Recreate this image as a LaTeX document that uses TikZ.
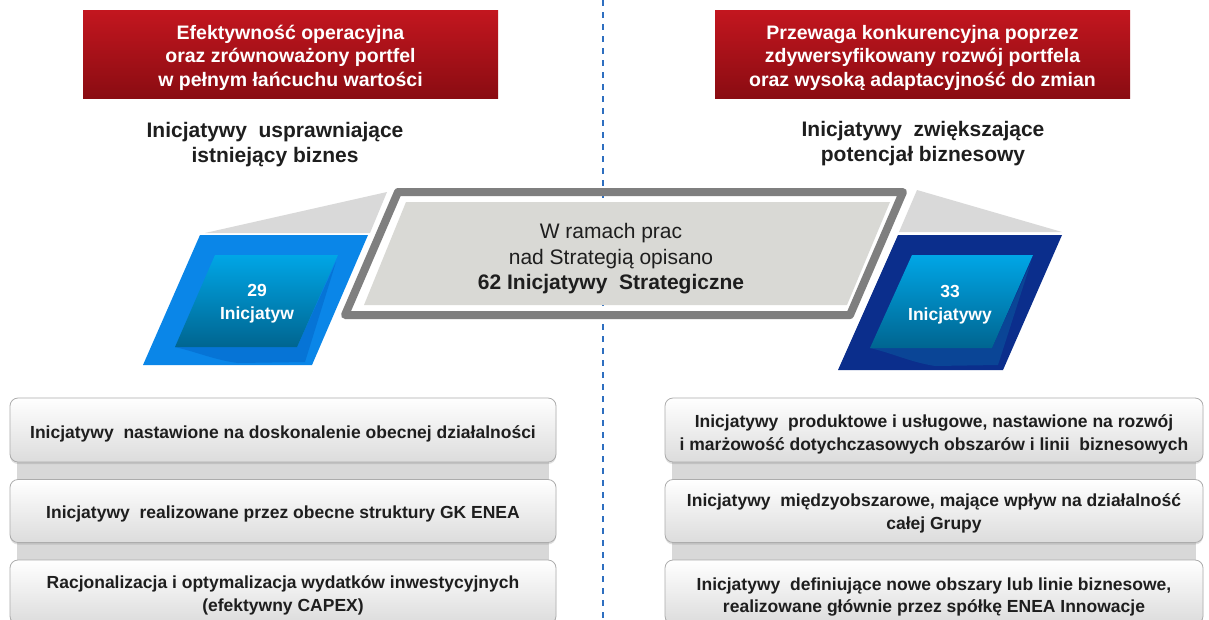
\documentclass[tikz,border=0pt]{standalone}
\usepackage{fontspec}
\setmainfont{Liberation Sans}
\usetikzlibrary{shadows}
\definecolor{redtop}{HTML}{C3161F}
\definecolor{redbot}{HTML}{8A0C12}
\definecolor{dashblue}{HTML}{2E6FC0}
\definecolor{wedge}{HTML}{D9D9D9}
\definecolor{frame}{HTML}{7F7F7F}
\definecolor{cfill}{HTML}{D9D9D5}
\definecolor{blueL}{HTML}{0A86E8}
\definecolor{blueLfold}{HTML}{0674D6}
\definecolor{navy}{HTML}{0B2E8C}
\definecolor{navyfold}{HTML}{0A4596}
\definecolor{intop}{HTML}{00A6E6}
\definecolor{inbot}{HTML}{006590}
\definecolor{band}{HTML}{D8D8D8}
\definecolor{boxbot}{HTML}{DCDCDC}
\definecolor{txt}{HTML}{1E1E1E}
\begin{document}
\begin{tikzpicture}[x=1pt,y=-1pt,
  redbox/.style={top color=redtop, bottom color=redbot, draw=none,
    inner sep=0pt},
  redtext/.style={text=white, align=center, inner sep=0pt,
    font=\bfseries\fontsize{19.5}{23.5}\selectfont},
  subtitle/.style={text=txt, align=center,
    font=\bfseries\fontsize{21}{25}\selectfont},
  lowbox/.style={draw=gray!65, line width=0.8pt, rounded corners=8pt,
    top color=white, middle color=white, bottom color=boxbot,
    drop shadow={shadow xshift=0pt, shadow yshift=-2pt, opacity=0.25},
    inner sep=0pt},
  lowtext/.style={text=txt, align=center, inner sep=0pt,
    font=\bfseries\fontsize{17.5}{22.5}\selectfont},
  count/.style={text=white, align=center,
    font=\bfseries\fontsize{17.5}{23}\selectfont},
  center/.style={text=txt, align=center,
    font=\fontsize{21}{25.5}\selectfont},
  dashline/.style={draw=dashblue, line width=2pt, dash pattern=on 6pt off 6pt}
]
\useasboundingbox (0,0) rectangle (1209,619);
\fill[white] (0,0) rectangle (1209,619);

% dashed separator
\coordinate (dtop) at (603,0);
\coordinate (dbot) at (603,619);
\draw[dashline] (dtop) -- (dbot);

% header boxes
\node[redbox, minimum width=415pt, minimum height=88pt] (hl) at (290.5,54) {};
\node[redtext] (hlt) at (290.5,57.5)
  {Efektywność operacyjna\\oraz zrównoważony portfel\\w pełnym łańcuchu wartości};
\node[redbox, minimum width=415pt, minimum height=88pt] (hr) at (922.5,54) {};
\node[redtext] (hrt) at (922.5,57.5)
  {Przewaga konkurencyjna poprzez\\zdywersyfikowany rozwój portfela\\oraz wysoką adaptacyjność do zmian};

% subtitles
\node[subtitle] (sl) at (275,145) {Inicjatywy\ \ usprawniające\\istniejący biznes};
\node[subtitle] (sr) at (923,143.5) {Inicjatywy\ \ zwiększające\\potencjał biznesowy};

% gray wedges
\fill[wedge] (205,233) -- (387,192) -- (370,233) -- cycle;
\fill[wedge] (917,190) -- (1062,232) -- (899,232) -- cycle;

% left blue parallelogram
\fill[blueL] (200,235) -- (368,235) -- (312,365) -- (143,365) -- cycle;
\fill[blueLfold] (175,347) .. controls (200,353) and (215,360) .. (238,363)
  -- (305,362) -- (336,262) -- (297,347) -- cycle;
\shade[top color=intop, bottom color=inbot] (215,255) -- (338,255) -- (297,347) -- (175,347) -- cycle;
\node[count] (n29) at (257,304) {29\\Inicjatyw};

% right blue parallelogram
\fill[navy] (898,235) -- (1062,235) -- (1003,370) -- (838,370) -- cycle;
\fill[navyfold] (870,348) .. controls (895,354) and (910,362) .. (935,366)
  -- (998,365) -- (1031,262) -- (992,348) -- cycle;
\shade[top color=intop, bottom color=inbot] (912,255) -- (1033,255) -- (992,348) -- (870,348) -- cycle;
\node[count] (n33) at (950,305) {33\\Inicjatywy};

% central box
\draw[frame, line width=8pt, line join=round] (398,192) -- (903,192) -- (850,315) -- (345,315) -- cycle;
\fill[cfill] (406,202) -- (890,202) -- (847,305) -- (364,305) -- cycle;
\node[center] (mid) at (611,259)
  {W ramach prac\\nad Strategią opisano\\\textbf{62 Inicjatywy\ \ Strategiczne}};

% bands behind lower boxes
\fill[band] (17,440) rectangle (549,600);
\fill[band] (672,440) rectangle (1196,600);

% lower boxes left
\node[lowbox, minimum width=546pt, minimum height=64pt] (l1) at (283,430) {};
\node[lowtext] (l1t) at (283,433.5)
  {Inicjatywy\ \ nastawione na doskonalenie obecnej działalności};
\node[lowbox, minimum width=546pt, minimum height=63pt] (l2) at (283,511) {};
\node[lowtext] (l2t) at (283,513.5)
  {Inicjatywy\ \ realizowane przez obecne struktury GK ENEA};
\node[lowbox, minimum width=546pt, minimum height=64pt] (l3) at (283,592) {};
\node[lowtext] (l3t) at (283,595.5)
  {Racjonalizacja i optymalizacja wydatków inwestycyjnych\\(efektywny CAPEX)};

% lower boxes right
\node[lowbox, minimum width=538pt, minimum height=64pt] (r1) at (934,430) {};
\node[lowtext] (r1t) at (934,434.5)
  {Inicjatywy\ \ produktowe i usługowe, nastawione na rozwój\\i marżowość dotychczasowych obszarów i linii\ \ biznesowych};
\node[lowbox, minimum width=538pt, minimum height=63pt] (r2) at (934,511) {};
\node[lowtext] (r2t) at (934,513.5)
  {Inicjatywy\ \ międzyobszarowe, mające wpływ na działalność\\całej Grupy};
\node[lowbox, minimum width=538pt, minimum height=64pt] (r3) at (934,592) {};
\node[lowtext] (r3t) at (934,597)
  {Inicjatywy\ \ definiujące nowe obszary lub linie biznesowe,\\realizowane głównie przez spółkę ENEA Innowacje};
\end{tikzpicture}
\end{document}
